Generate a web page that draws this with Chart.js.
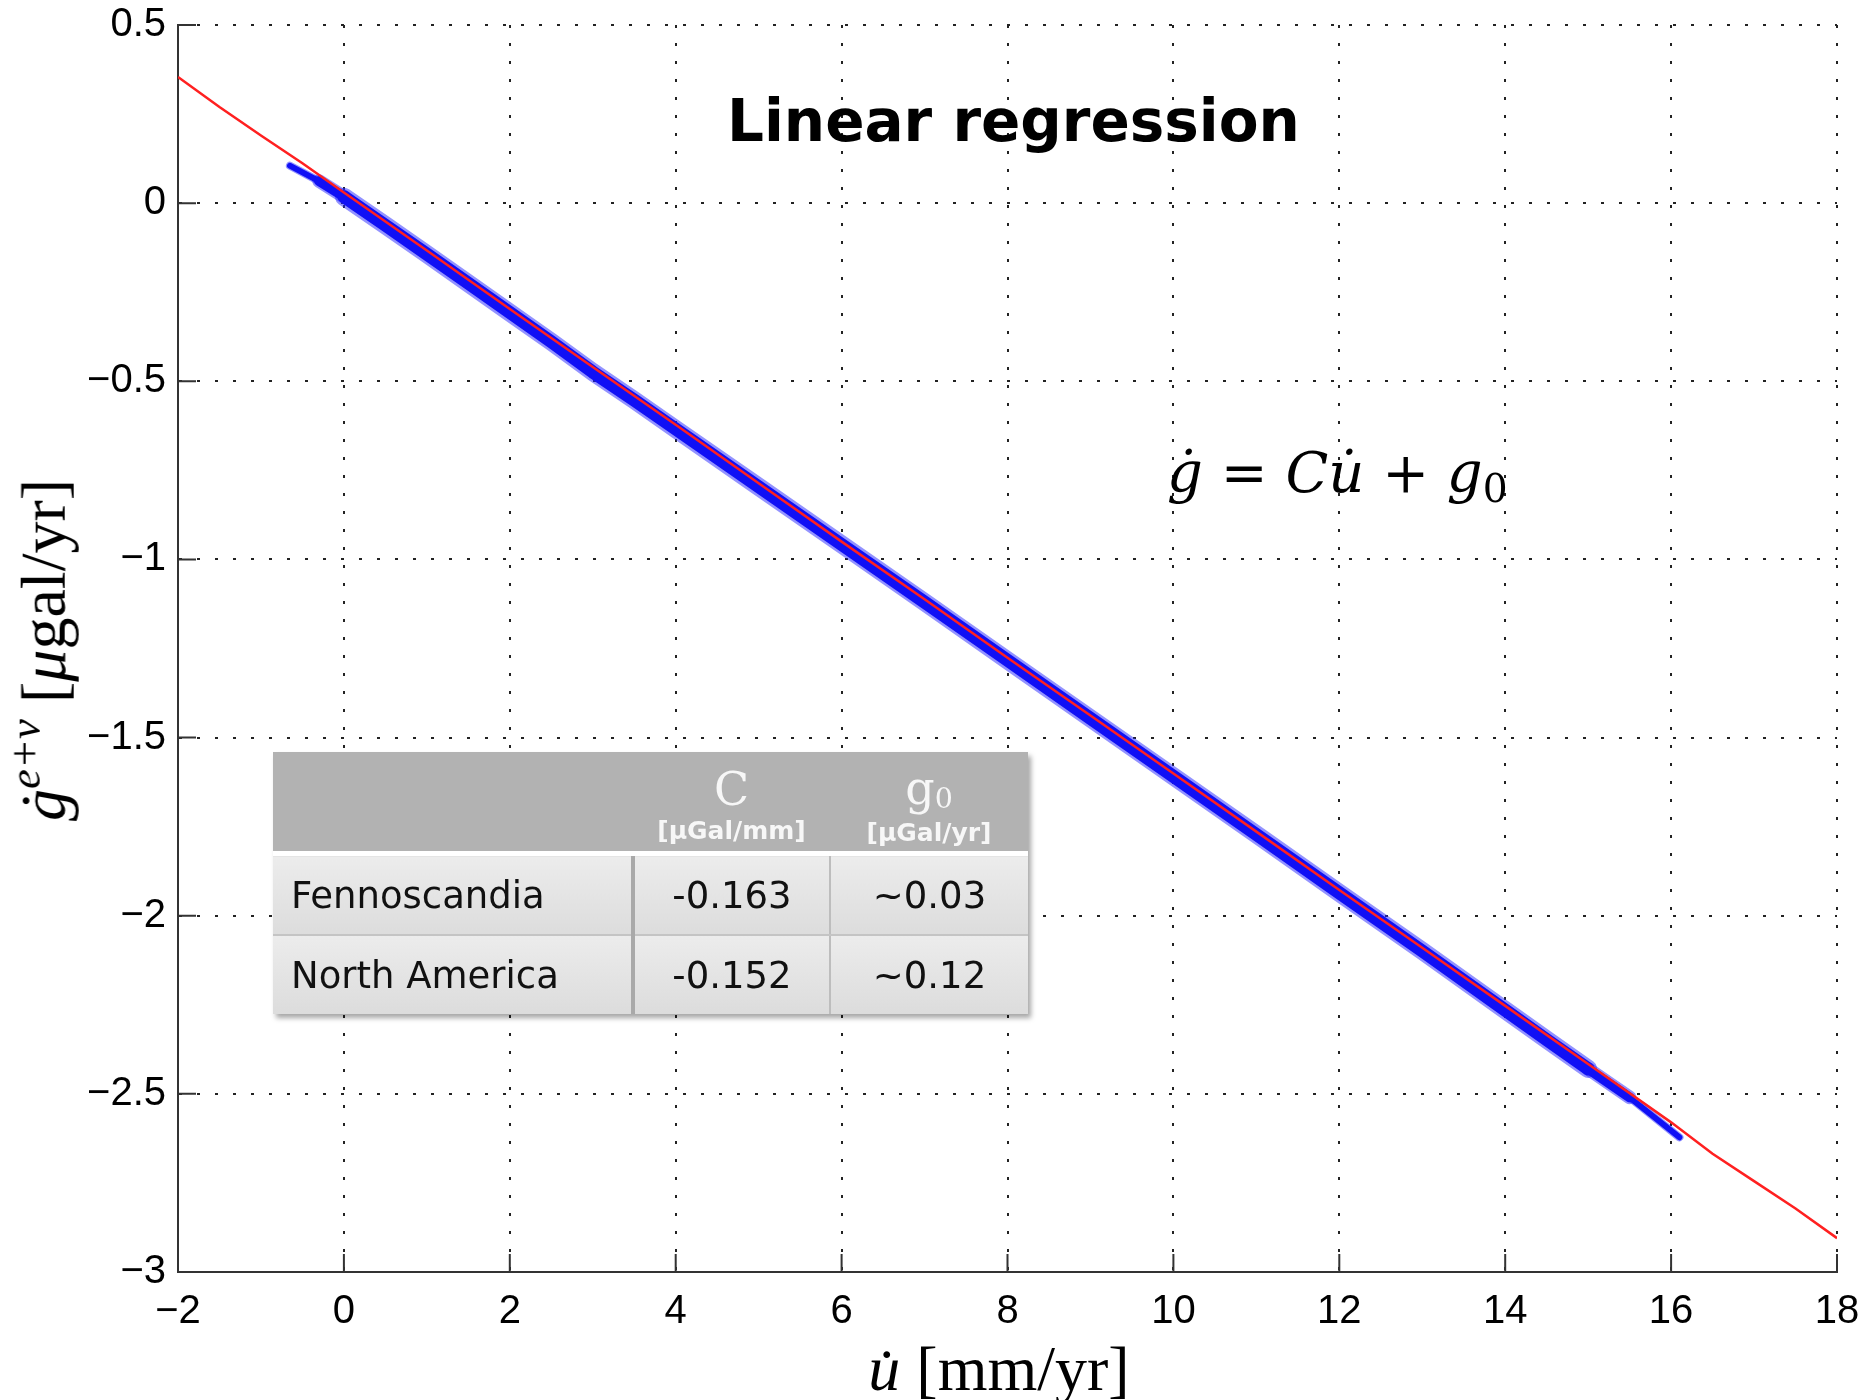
<!DOCTYPE html>
<html>
<head>
<meta charset="utf-8">
<script src="https://cdn.jsdelivr.net/npm/chart.js@4.4.1/dist/chart.umd.min.js"></script>
<style>
  html, body { margin: 0; padding: 0; background: #fff; }
  #wrap { position: relative; width: 1868px; height: 1400px; overflow: hidden; }
  #chart { position: absolute; left: 0; top: 0; }
  .lbl { position: absolute; white-space: nowrap; line-height: 1; color: #000; }
  #title { left: 727px; top: 87px; font: bold 58px "DejaVu Sans"; }
  #eq { left: 1167px; top: 440px; font: 56px "DejaVu Serif"; }
  #eq i { font-style: italic; }
  #eq sub { font-size: 0.7em; font-style: normal; vertical-align: -0.25em; }
  .axt { font-family: "Liberation Serif"; font-size: 64px; }
  .axt i { font-style: italic; }
  .axt sup { font-size: 0.7em; font-style: italic; vertical-align: 0.55em; }
  #xlab { left: 999px; top: 1337px; transform: translateX(-50%); }
  #ylab { left: 39px; top: 650px; transform: translate(-50%, -50%) rotate(-90deg); }
  #tbl { position: absolute; left: 273px; top: 752px; width: 755px; height: 262px;
         border-collapse: collapse; box-shadow: 3px 4px 5px rgba(0,0,0,0.35);
         font-family: "DejaVu Sans"; }
  #tbl th { background: #b2b2b2; color: #f7f7f7; height: 101px; padding: 8px 0 0 0; font-weight: normal;
            border-bottom: 5px solid #fff; box-sizing: border-box; }
  #tbl th .big { font: 46px "DejaVu Serif"; display: block; line-height: 1; }
  #tbl th .big sub { font-size: 0.62em; vertical-align: -0.15em; }
  #tbl th .unit { font: bold 25px "DejaVu Sans"; display: block; margin-top: 4px; }
  #tbl td { background: linear-gradient(#ececec, #dcdcdc); height: 77px; padding: 0;
            font-size: 37px; text-align: center; color: #111; }
  #tbl td.name { text-align: left; padding-left: 18px; }
  #tbl tr.r1 td { border-bottom: 2px solid #c4c4c4; }
  #tbl td.c2 { border-left: 4px solid #a9a9a9; }
  #tbl td.c3 { border-left: 2px solid #bdbdbd; }
</style>
</head>
<body>
<div id="wrap">
  <canvas id="chart" width="1868" height="1400"></canvas>
  <div id="title" class="lbl">Linear regression</div>
  <div id="eq" class="lbl"><i>ġ</i> = <i>C</i><i>u̇</i> + <i>g</i><sub>0</sub></div>
  <div id="xlab" class="lbl axt"><i>u̇</i>&nbsp;[mm/yr]</div>
  <div id="ylab" class="lbl axt"><i>ġ</i><sup>e+v</sup>&nbsp;[<i>μ</i>gal/yr]</div>
  <table id="tbl">
    <tr>
      <th style="width:360px"></th>
      <th style="width:197px"><span class="big">C</span><span class="unit">[μGal/mm]</span></th>
      <th style="width:198px"><span class="big">g<sub>0</sub></span><span class="unit">[μGal/yr]</span></th>
    </tr>
    <tr class="r1"><td class="name">Fennoscandia</td><td class="c2">-0.163</td><td class="c3">~0.03</td></tr>
    <tr class="r2"><td class="name">North America</td><td class="c2">-0.152</td><td class="c3">~0.12</td></tr>
  </table>
</div>
<script>
// axes
const xTicks = [-2, 0, 2, 4, 6, 8, 10, 12, 14, 16, 18];
const yTicks = [0.5, 0, -0.5, -1, -1.5, -2, -2.5, -3];

// red regression line
const fitX = [-2, -1.5, -1, -0.5, 0, 1, 2, 3, 4, 5, 6, 7, 8, 9, 10, 11, 12, 13, 14, 15, 16, 16.5, 17, 17.5, 18];
const fitY = [0.354, 0.27, 0.19, 0.112, 0.03, -0.133, -0.297, -0.46, -0.622, -0.786, -0.95, -1.112, -1.276, -1.438, -1.601, -1.764, -1.928, -2.09, -2.253, -2.416, -2.58, -2.668, -2.745, -2.822, -2.905];

// blue observation band (centre line of the point cloud)
const obsX = [-0.65, -0.3, 0, 0.5, 1, 1.5, 2, 2.5, 3, 3.5, 4, 5, 6, 7, 8, 9, 10, 11, 12, 13, 14, 14.5, 15, 15.5, 16.1];
const obsY = [0.105, 0.062, 0.018, -0.062, -0.143, -0.225, -0.307, -0.389, -0.474, -0.553, -0.634, -0.796, -0.958, -1.12, -1.283, -1.446, -1.609, -1.772, -1.936, -2.099, -2.265, -2.348, -2.43, -2.51, -2.622];

const pts = (xs, ys) => xs.map((x, i) => ({ x: x, y: ys[i] }));
const minus = v => String(v).replace('-', '\u2212');
const last = obsX.length - 2;
const bandWidth = (ctx, w) => {
  const i = ctx.p0DataIndex;
  if (i === 0 || i === last) return w * 0.45;
  if (i === 1 || i === last - 1) return w * 0.75;
  return w;
};

const innerTicks = {
  id: 'innerTicks',
  afterDraw(chart) {
    const { ctx, chartArea, scales } = chart;
    ctx.save();
    ctx.strokeStyle = '#333';
    ctx.lineWidth = 2;
    ctx.beginPath();
    scales.x.ticks.forEach(t => {
      const px = scales.x.getPixelForValue(t.value);
      ctx.moveTo(px, chartArea.bottom);
      ctx.lineTo(px, chartArea.bottom - 18);
    });
    scales.y.ticks.forEach(t => {
      const py = scales.y.getPixelForValue(t.value);
      ctx.moveTo(chartArea.left, py);
      ctx.lineTo(chartArea.left + 18, py);
    });
    ctx.stroke();
    ctx.restore();
  }
};

const axisCommon = {
  type: 'linear',
  grid: { color: '#222', lineWidth: 2, drawTicks: false },
  border: { display: true, color: '#333', width: 2, dash: [3, 15] },
  ticks: { color: '#000', font: { family: 'Liberation Sans', size: 40 }, callback: v => minus(v) }
};

new Chart(document.getElementById('chart'), {
  type: 'scatter',
  data: {
    datasets: [
      {
        data: pts(fitX, fitY), showLine: true, order: 0,
        borderColor: '#ff2020', borderWidth: 2.5, pointRadius: 0
      },
      {
        data: pts(obsX, obsY), showLine: true, order: 1,
        borderColor: '#1010f5', borderWidth: 13, pointRadius: 0,
        borderCapStyle: 'round', borderJoinStyle: 'round',
        segment: { borderWidth: ctx => bandWidth(ctx, 13) }
      },
      {
        data: pts(obsX, obsY), showLine: true, order: 2,
        borderColor: 'rgba(40,40,255,0.5)', borderWidth: 18, pointRadius: 0,
        borderCapStyle: 'round', borderJoinStyle: 'round',
        segment: { borderWidth: ctx => bandWidth(ctx, 18) }
      }
    ]
  },
  options: {
    responsive: false,
    animation: false,
    devicePixelRatio: 1,
    layout: { padding: { top: 25, right: 31, left: 0, bottom: 0 } },
    plugins: { legend: { display: false }, tooltip: { enabled: false } },
    scales: {
      x: Object.assign({}, axisCommon, {
        min: -2, max: 18,
        afterBuildTicks: s => { s.ticks = xTicks.map(v => ({ value: v })); },
        afterFit: s => { s.height = 128; s.paddingLeft = 0; s.paddingRight = 0; },
        ticks: Object.assign({}, axisCommon.ticks, { padding: 16, maxRotation: 0 })
      }),
      y: Object.assign({}, axisCommon, {
        min: -3, max: 0.5,
        afterBuildTicks: s => { s.ticks = yTicks.map(v => ({ value: v })); },
        afterFit: s => { s.width = 178; s.paddingTop = 0; s.paddingBottom = 0; },
        ticks: Object.assign({}, axisCommon.ticks, { padding: 12 })
      })
    }
  },
  plugins: [innerTicks]
});
</script>
</body>
</html>
